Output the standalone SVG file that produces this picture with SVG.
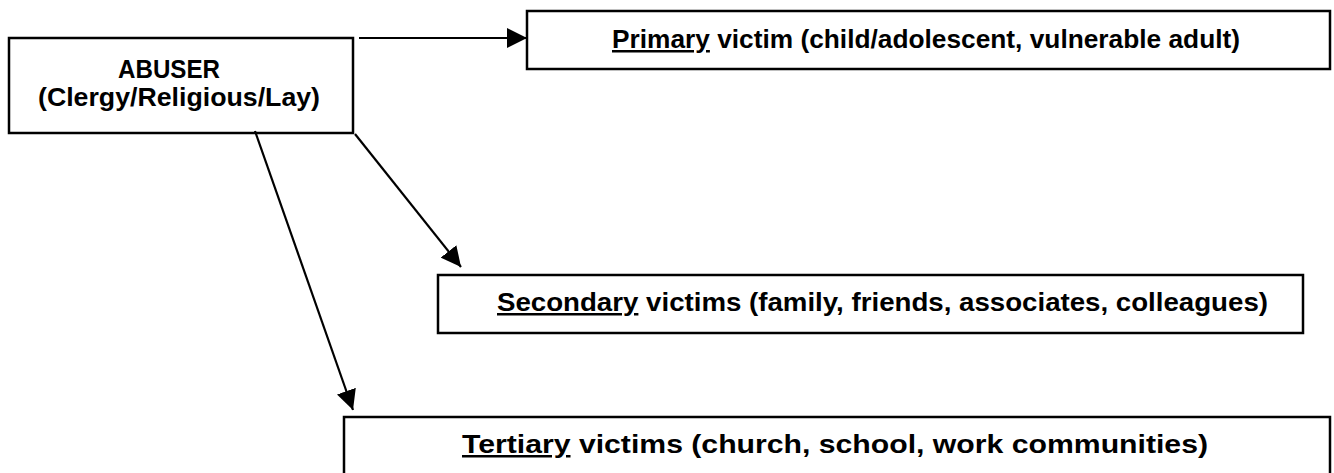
<svg xmlns="http://www.w3.org/2000/svg" width="1334" height="473" viewBox="0 0 1334 473">
<defs>
<style>
.box{fill:#fff;stroke:#000;stroke-width:2.5}
.t{font-family:"Liberation Sans",Arial,sans-serif;font-weight:bold;font-size:25px;fill:#000}
.u{text-decoration:underline}
.c{stroke:#000;stroke-width:2.2;fill:none}
</style>
<marker id="ah2" viewBox="0 0 10 10" refX="10" refY="5" markerWidth="20" markerHeight="20" markerUnits="userSpaceOnUse" orient="auto">
<path d="M0,0 L10,5 L0,10 z" fill="#000"/>
</marker>
</defs>
<g id="abuser">
<rect class="box" x="9" y="38" width="344" height="95"/>
<text class="t" x="118" y="78" textLength="102" lengthAdjust="spacingAndGlyphs">ABUSER</text>
<text class="t" x="38" y="106" textLength="282" lengthAdjust="spacingAndGlyphs">(Clergy/Religious/Lay)</text>
</g>
<g id="primary">
<rect class="box" x="527" y="11" width="803" height="58"/>
<text class="t" x="612" y="48" textLength="628" lengthAdjust="spacingAndGlyphs"><tspan class="u">Primary</tspan> victim (child/adolescent, vulnerable adult)</text>
</g>
<g id="secondary">
<rect class="box" x="438" y="275" width="865" height="58"/>
<text class="t" x="497" y="311" textLength="771" lengthAdjust="spacingAndGlyphs"><tspan class="u">Secondary</tspan> victims (family, friends, associates, colleagues)</text>
</g>
<g id="tertiary">
<rect class="box" x="344" y="417" width="986" height="70"/>
<text class="t" x="462" y="453" textLength="746" lengthAdjust="spacingAndGlyphs"><tspan class="u">Tertiary</tspan> victims (church, school, work communities)</text>
</g>
<g id="connectors">
<line class="c" x1="359" y1="38" x2="527" y2="38" stroke-width="3" marker-end="url(#ah2)"/>
<line class="c" x1="355" y1="134" x2="461" y2="267" marker-end="url(#ah2)"/>
<line class="c" x1="255" y1="131" x2="353" y2="410" marker-end="url(#ah2)"/>
</g>
</svg>
